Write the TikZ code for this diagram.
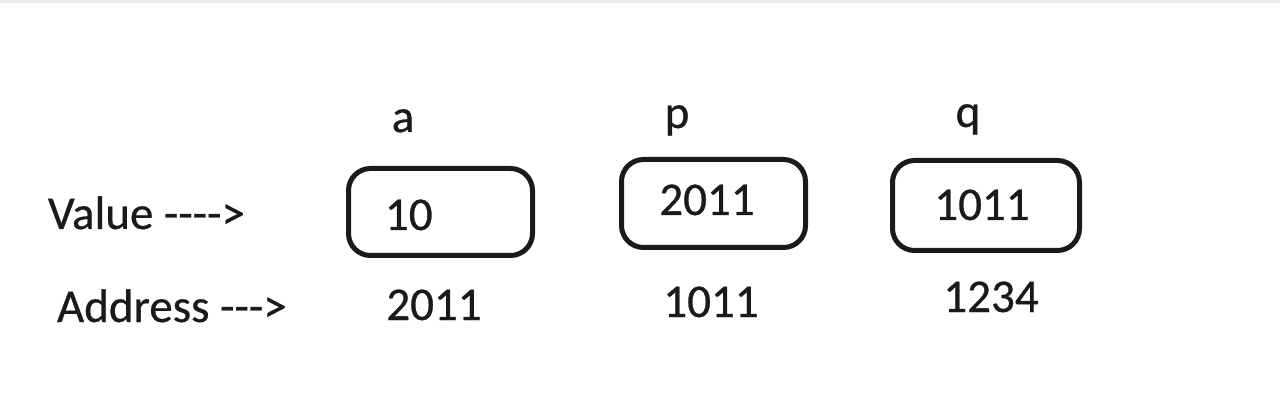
\documentclass[tikz,border=0pt]{standalone}
\usepackage{fontspec}
\setmainfont{Carlito}[FakeBold=0.6]
\definecolor{ink}{HTML}{1A1A1A}
\begin{document}
\begin{tikzpicture}[x=1pt,y=-1pt,
  cell/.style={draw=ink,line width=5pt,rounded corners=22pt,inner sep=0pt},
  txt/.style={inner sep=0pt,outer sep=0pt,text=ink,font=\fontsize{47}{52}\selectfont},
  lbl/.style={txt,anchor=base},
]
\useasboundingbox (0,0) rectangle (1280,406);
\fill[white] (0,0) rectangle (1280,406);
\fill[black!8] (0,0) rectangle (1280,3);
% boxes
\node[cell,minimum width=184pt,minimum height=87pt] (boxa) at (440.5,212) {};
\node[cell,minimum width=184pt,minimum height=88pt] (boxp) at (713.5,203.5) {};
\node[cell,minimum width=187pt,minimum height=90pt] (boxq) at (986,205.5) {};
% names
\node[lbl] (na) at (403,132) {a};
\node[lbl] (np) at (677,128) {p};
\node[lbl] (nq) at (968,127) {q};
% values
\node[txt,anchor=base west] (va) at (385,230) {10};
\node[lbl] (vp) at (707,215) {2011};
\node[lbl] (vq) at (982,220) {1011};
% row labels
\node[txt,anchor=base west] (value) at (48,229) {Value -{}-{}-{}->};
\node[txt,anchor=base west] (address) at (57,322) {Address -{}-{}->};
% addresses
\node[lbl] (aa) at (434,320) {2011};
\node[lbl] (ap) at (711,317) {1011};
\node[lbl] (aq) at (991,312) {1234};
\end{tikzpicture}
\end{document}
